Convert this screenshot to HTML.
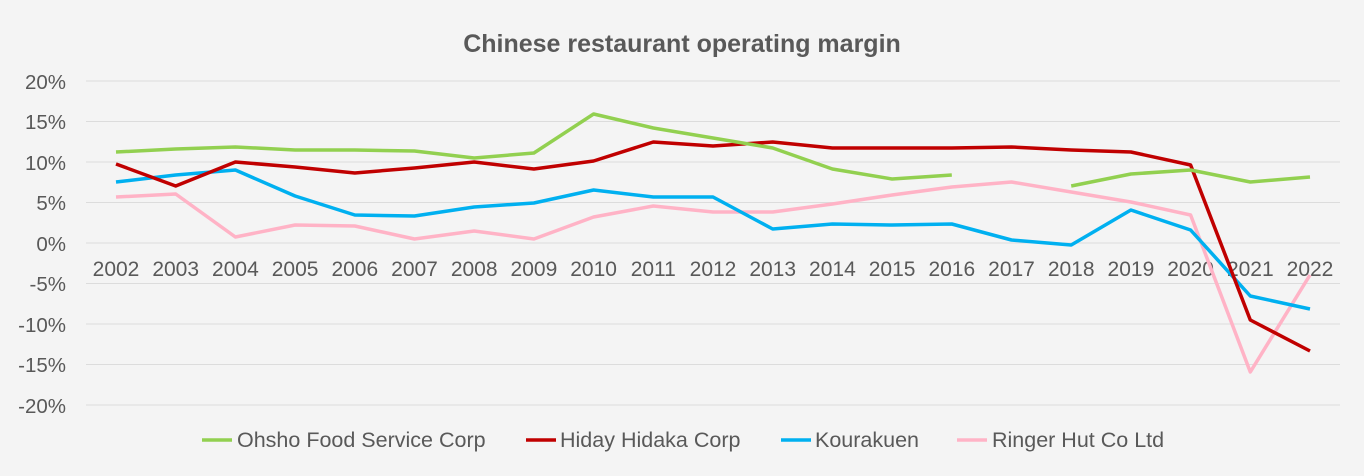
<!DOCTYPE html><html><head><style>body{margin:0;background:#f4f4f4}svg{display:block}text{font-family:"Liberation Sans",sans-serif;fill:#595959}</style></head><body>
<svg width="1364" height="476" viewBox="0 0 1364 476">
<rect width="1364" height="476" fill="#f4f4f4"/>
<text x="682" y="52" text-anchor="middle" font-size="25" font-weight="bold">Chinese restaurant operating margin</text>
<g stroke="#dcdcdc" stroke-width="1">
<line x1="86" x2="1340" y1="81" y2="81"/><line x1="86" x2="1340" y1="121.5" y2="121.5"/><line x1="86" x2="1340" y1="162" y2="162"/><line x1="86" x2="1340" y1="202.5" y2="202.5"/><line x1="86" x2="1340" y1="243" y2="243"/><line x1="86" x2="1340" y1="283.5" y2="283.5"/><line x1="86" x2="1340" y1="324" y2="324"/><line x1="86" x2="1340" y1="364.5" y2="364.5"/><line x1="86" x2="1340" y1="405" y2="405"/>
</g>
<g font-size="20.5" text-anchor="end">
<text x="66" y="89">20%</text><text x="66" y="129">15%</text><text x="66" y="170">10%</text><text x="66" y="210">5%</text><text x="66" y="251">0%</text><text x="66" y="291">-5%</text><text x="66" y="332">-10%</text><text x="66" y="372">-15%</text><text x="66" y="413">-20%</text>
</g>
<g font-size="21" text-anchor="middle">
<text x="116" y="276">2002</text><text x="175.7" y="276">2003</text><text x="235.4" y="276">2004</text><text x="295.1" y="276">2005</text><text x="354.8" y="276">2006</text><text x="414.5" y="276">2007</text><text x="474.2" y="276">2008</text><text x="533.9" y="276">2009</text><text x="593.6" y="276">2010</text><text x="653.3" y="276">2011</text><text x="713" y="276">2012</text><text x="772.7" y="276">2013</text><text x="832.4" y="276">2014</text><text x="892.1" y="276">2015</text><text x="951.8" y="276">2016</text><text x="1011.5" y="276">2017</text><text x="1071.2" y="276">2018</text><text x="1130.9" y="276">2019</text><text x="1190.6" y="276">2020</text><text x="1250.3" y="276">2021</text><text x="1310" y="276">2022</text>
</g>
<g fill="none" stroke-width="3.5" stroke-linejoin="round">
<polyline stroke="#ffb3c6" points="116,197 175.7,194 235.4,237 295.1,225 354.8,226 414.5,239 474.2,231 533.9,239 593.6,217 653.3,206 713,212 772.7,212 832.4,204 892.1,195 951.8,187 1011.5,182 1071.2,192 1130.9,202 1190.6,215 1250.3,372 1310,275"/>
<polyline stroke="#00b0f0" points="116,182 175.7,175 235.4,170 295.1,196 354.8,215 414.5,216 474.2,207 533.9,203 593.6,190 653.3,197 713,197 772.7,229 832.4,224 892.1,225 951.8,224 1011.5,240 1071.2,245 1130.9,210 1190.6,230 1250.3,296 1310,309"/>
<polyline stroke="#c00000" points="116,164 175.7,186 235.4,162 295.1,167 354.8,173 414.5,168 474.2,162 533.9,169 593.6,161 653.3,142 713,146 772.7,142 832.4,148 892.1,148 951.8,148 1011.5,147 1071.2,150 1130.9,152 1190.6,165 1250.3,320 1310,351"/>
<polyline stroke="#92d050" points="116,152 175.7,149 235.4,147 295.1,150 354.8,150 414.5,151 474.2,158 533.9,153 593.6,114 653.3,128 713,138 772.7,148 832.4,169 892.1,179 951.8,175"/>
<polyline stroke="#92d050" points="1071.2,186 1130.9,174 1190.6,170 1250.3,182 1310,177"/>
</g>
<g font-size="21.5" stroke-width="3.5">
<line x1="202" x2="232" y1="440" y2="440" stroke="#92d050"/><text x="237" y="447">Ohsho Food Service Corp</text>
<line x1="526" x2="556" y1="440" y2="440" stroke="#c00000"/><text x="560" y="447">Hiday Hidaka Corp</text>
<line x1="781" x2="811" y1="440" y2="440" stroke="#00b0f0"/><text x="815" y="447">Kourakuen</text>
<line x1="957" x2="987" y1="440" y2="440" stroke="#ffb3c6"/><text x="992" y="447">Ringer Hut Co Ltd</text>
</g>
</svg></body></html>
